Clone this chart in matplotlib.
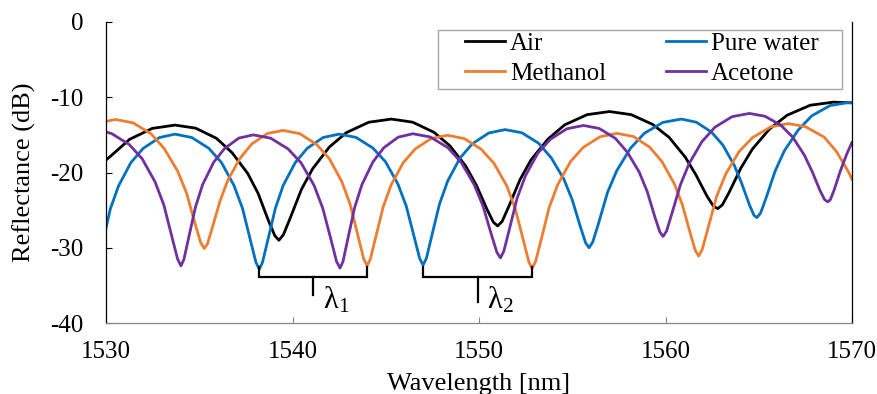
import numpy as np
import matplotlib
matplotlib.use("Agg")
import matplotlib.pyplot as plt
from matplotlib.patches import Rectangle

# ----------------------------------------------------
# DATA (wavelength [nm], reflectance [dB])
# ----------------------------------------------------
air = [
    (1530, -18.35), (1530.35, -17.6), (1531.26, -15.6), (1532.48, -14.14), (1533.7, -13.7),
    (1534.81, -14.11), (1535.93, -15.47), (1536.76, -17.37), (1537.6, -20.13), (1538.16, -22.8),
    (1538.71, -26.4), (1539.05, -28.39), (1539.27, -29.0),
    (1539.51, -28.28), (1539.87, -26.1), (1540.48, -22.24), (1541.08, -19.5), (1541.98, -16.6),
    (1542.89, -14.7), (1544.09, -13.32), (1545.3, -12.9),
    (1546.44, -13.31), (1547.58, -14.65), (1548.44, -16.45), (1549.29, -19.15), (1549.86, -21.7),
    (1550.43, -24.9), (1550.77, -26.6), (1551.0, -27.1),
    (1551.24, -26.5), (1551.6, -24.5), (1552.2, -20.94), (1552.8, -18.28), (1553.7, -15.55),
    (1554.6, -13.66), (1555.8, -12.31), (1557.0, -11.9),
    (1558.16, -12.31), (1559.32, -13.62), (1560.19, -15.32), (1561.06, -17.96), (1561.64, -20.35),
    (1562.22, -23.12), (1562.57, -24.48), (1562.8, -24.8),
    (1563.05, -24.3), (1563.42, -22.6), (1564.04, -19.42), (1564.66, -16.88), (1565.59, -14.19),
    (1566.52, -12.39), (1567.76, -11.06), (1569.0, -10.65), (1570, -10.75),
]

water = [
    (1530, -27.4), (1530.23, -24.85), (1530.67, -21.8), (1531.33, -18.7), (1531.99, -16.8),
    (1532.87, -15.35), (1533.7, -14.9),
    (1534.6, -15.35), (1535.51, -16.78), (1536.19, -18.67), (1536.86, -21.72), (1537.32, -24.77),
    (1537.77, -29.26), (1538.04, -31.95), (1538.22, -32.85),
    (1538.39, -31.95), (1538.65, -29.26), (1539.08, -24.77), (1539.5, -21.72), (1540.15, -18.67),
    (1540.79, -16.78), (1541.64, -15.35), (1542.5, -14.9),
    (1543.4, -15.33), (1544.3, -16.73), (1544.98, -18.55), (1545.65, -21.51), (1546.1, -24.47),
    (1546.55, -28.82), (1546.82, -31.43), (1547.0, -32.3),
    (1547.18, -31.4), (1547.44, -28.7), (1547.88, -24.2), (1548.32, -21.14), (1548.98, -18.08),
    (1549.64, -16.19), (1550.52, -14.75), (1551.4, -14.3),
    (1552.3, -14.72), (1553.2, -16.12), (1553.88, -18.07), (1554.55, -20.89), (1555.0, -23.64),
    (1555.45, -27.33), (1555.72, -29.37), (1555.9, -30.0),
    (1556.1, -29.23), (1556.4, -26.84), (1556.89, -22.65), (1557.39, -19.74), (1558.13, -16.75),
    (1558.87, -14.78), (1559.86, -13.34), (1560.85, -12.9),
    (1561.66, -13.32), (1562.47, -14.64), (1563.08, -16.37), (1563.69, -19.06), (1564.09, -21.48),
    (1564.5, -24.3), (1564.74, -25.67), (1564.9, -26.0),
    (1565.1, -25.39), (1565.39, -23.4), (1565.88, -19.8), (1566.37, -17.13), (1567.11, -14.37),
    (1567.84, -12.47), (1568.82, -11.11), (1569.8, -10.7), (1570, -10.72),
]

methanol = [
    (1530, -13.2), (1530.5, -12.95),
    (1531.45, -13.4), (1532.41, -14.84), (1533.12, -16.81), (1533.84, -19.81), (1534.32, -22.73),
    (1534.79, -26.93), (1535.08, -29.33), (1535.27, -30.1),
    (1535.44, -29.47), (1535.69, -27.43), (1536.12, -23.74), (1536.54, -20.99), (1537.17, -18.17),
    (1537.81, -16.22), (1538.65, -14.82), (1539.5, -14.4),
    (1540.4, -14.85), (1541.3, -16.29), (1541.98, -18.18), (1542.65, -21.24), (1543.1, -24.3),
    (1543.55, -28.8), (1543.82, -31.5), (1544.0, -32.4),
    (1544.17, -31.53), (1544.43, -28.93), (1544.86, -24.59), (1545.29, -21.64), (1545.94, -18.69),
    (1546.58, -16.87), (1547.44, -15.48), (1548.3, -15.05),
    (1549.21, -15.49), (1550.12, -16.91), (1550.8, -18.77), (1551.49, -21.78), (1551.94, -24.78),
    (1552.4, -29.21), (1552.67, -31.87), (1552.85, -32.75),
    (1553.03, -31.85), (1553.31, -29.16), (1553.76, -24.67), (1554.22, -21.62), (1554.9, -18.57),
    (1555.58, -16.68), (1556.49, -15.25), (1557.4, -14.8),
    (1558.28, -15.22), (1559.15, -16.63), (1559.81, -18.55), (1560.47, -21.48), (1560.9, -24.25),
    (1561.34, -28.17), (1561.6, -30.37), (1561.78, -31.1),
    (1561.97, -30.22), (1562.26, -27.58), (1562.74, -23.18), (1563.23, -20.19), (1563.95, -17.2),
    (1564.67, -15.35), (1565.64, -13.94), (1566.6, -13.5),
    (1567.51, -13.92), (1568.51, -15.3), (1569.17, -17.22), (1569.83, -20.0), (1570, -20.9),
]

acetone = [
    (1530, -14.6), (1530.32, -14.85), (1531.25, -16.29), (1531.94, -18.18), (1532.63, -21.24),
    (1533.1, -24.3), (1533.56, -28.8), (1533.84, -31.5), (1534.02, -32.4),
    (1534.18, -31.53), (1534.41, -28.92), (1534.8, -24.57), (1535.18, -21.61), (1535.77, -18.65),
    (1536.35, -16.83), (1537.12, -15.43), (1537.9, -15.0),
    (1538.83, -15.44), (1539.76, -16.86), (1540.46, -18.72), (1541.16, -21.73), (1541.62, -24.73),
    (1542.09, -29.16), (1542.36, -31.82), (1542.55, -32.7),
    (1542.71, -31.81), (1542.94, -29.13), (1543.33, -24.67), (1543.72, -21.63), (1544.31, -18.6),
    (1544.89, -16.72), (1545.67, -15.3), (1546.45, -14.85),
    (1547.39, -15.28), (1548.33, -16.7), (1549.04, -18.64), (1549.74, -21.61), (1550.21, -24.42),
    (1550.68, -28.38), (1550.96, -30.61), (1551.15, -31.35),
    (1551.33, -30.47), (1551.6, -27.83), (1552.04, -23.43), (1552.49, -20.44), (1553.15, -17.45),
    (1553.82, -15.6), (1554.71, -14.19), (1555.6, -13.75),
    (1556.45, -14.15), (1557.31, -15.46), (1557.95, -17.29), (1558.59, -19.94), (1559.02, -22.53),
    (1559.44, -25.99), (1559.7, -27.91), (1559.87, -28.5),
    (1560.06, -27.76), (1560.33, -25.56), (1560.8, -21.63), (1561.26, -18.85), (1561.95, -15.91),
    (1562.65, -13.98), (1563.57, -12.58), (1564.5, -12.15),
    (1565.34, -12.53), (1566.18, -13.71), (1566.81, -15.26), (1567.44, -17.67), (1567.86, -19.85),
    (1568.28, -22.37), (1568.53, -23.61), (1568.7, -23.9),
    (1568.84, -23.6), (1569.04, -22.34), (1569.38, -19.76), (1569.72, -17.54), (1570, -16.0),
]

labels = ["Air", "Pure water", "Methanol", "Acetone"]
colors = ["#000000", "#0070C0", "#ED7D31", "#7030A0"]
x_ticks = [1530, 1540, 1550, 1560, 1570]
y_ticks = [-40, -30, -20, -10, 0]

# ----------------------------------------------------
# STYLE
# ----------------------------------------------------
plt.rcParams["font.family"] = ["Liberation Serif", "DejaVu Serif"]
plt.rcParams["mathtext.fontset"] = "custom"
plt.rcParams["mathtext.rm"] = "Liberation Serif"
plt.rcParams["axes.unicode_minus"] = False

W, H = 877, 394
fig = plt.figure(figsize=(W / 100, H / 100), dpi=100)
ax = fig.add_axes([106 / W, 1 - 323 / H, (852 - 106) / W, (323 - 22) / H])

lines = []
for data, lab, col in zip([air, water, methanol, acetone], labels, colors):
    xs, ys = zip(*data)
    ln, = ax.plot(xs, ys, color=col, lw=2.0, label=lab, solid_joinstyle="round")
    lines.append(ln)

ax.set_xlim(1530, 1570)
ax.set_ylim(-40, 0)
ax.set_xticks(x_ticks)
ax.set_yticks(y_ticks)
ax.tick_params(axis="x", direction="in", length=4, width=0.8, color="#868686",
               labelsize=18, pad=13)
ax.tick_params(axis="y", direction="in", length=4, width=0.8, color="#000000",
               labelsize=18, pad=16)

ax.spines["top"].set_visible(False)
ax.spines["left"].set_color("#000000")
ax.spines["right"].set_color("#000000")
ax.spines["bottom"].set_color("#868686")
for s in ["left", "right", "bottom"]:
    ax.spines[s].set_linewidth(0.9)

ax.set_xlabel("Wavelength [nm]", fontsize=19)
ax.set_ylabel("Reflectance (dB)", fontsize=19)
ax.xaxis.set_label_coords(0.5, -0.165)
ax.yaxis.set_label_coords(-0.094, 0.5)

# ----------------------------------------------------
# BRACKETS: from the pure-water dip to the methanol dip
# ----------------------------------------------------
water_dips = [1538.22, 1547.0]
methanol_dips = [1544.0, 1552.85]
bracket_top, bracket_bar = -32.6, -33.9
stem_ends = [-36.3, -37.2]
for i, (xl, xr) in enumerate(zip(water_dips, methanol_dips)):
    xc = 0.5 * (xl + xr)
    ax.plot([xl, xl, xr, xr], [bracket_top, bracket_bar, bracket_bar, bracket_top],
            color="black", lw=1.6, solid_joinstyle="miter")
    ax.plot([xc, xc], [bracket_bar, stem_ends[i]], color="black", lw=1.6)
    ax.text(xc + 0.5, -37.0, r"$\mathregular{λ_%d}$" % (i + 1), fontsize=22,
            ha="left", va="center")

# ----------------------------------------------------
# LEGEND (row order: Air, Pure water / Methanol, Acetone)
# ----------------------------------------------------
order = [0, 2, 1, 3]
box = Rectangle((438 / W, 1 - 89 / H), (842 - 438) / W, (89 - 30) / H,
                transform=fig.transFigure, facecolor="white", edgecolor="#A6A6A6",
                lw=1.0, clip_on=False, zorder=4)
ax.add_patch(box)
leg = ax.legend([lines[i] for i in order], [labels[i] for i in order], ncol=2,
                loc="upper left", bbox_to_anchor=(465 / W, 1 - 32 / H),
                bbox_transform=fig.transFigure, frameon=False, fontsize=18,
                borderpad=0, borderaxespad=0, handlelength=1.6, handletextpad=0.2,
                columnspacing=2.4, labelspacing=0.3)
leg.set_zorder(5)

fig.savefig("out.png", dpi=100)
